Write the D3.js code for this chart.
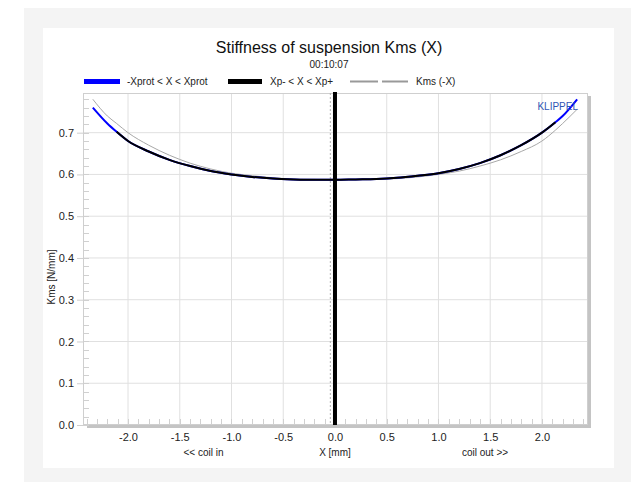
<!DOCTYPE html>
<html>
<head>
<meta charset="utf-8">
<script src="https://cdn.jsdelivr.net/npm/d3@7"></script>
<style>
  body { margin: 0; background: #fff; }
  text { font-family: "Liberation Sans", Arial, sans-serif; }
</style>
</head>
<body>
<div id="chart"></div>
<script>
'use strict';

// data
var xVals = [-2.34, -2.2, -2.11, -2.0, -1.8, -1.6, -1.4, -1.2, -1.0, -0.8, -0.6, -0.4, -0.2, 0,
             0.2, 0.4, 0.6, 0.8, 1.0, 1.2, 1.4, 1.6, 1.8, 2.0, 2.13, 2.2, 2.34];
var kmsVals = [0.760, 0.722, 0.702, 0.680, 0.655, 0.635, 0.620, 0.608, 0.600, 0.594, 0.590, 0.588, 0.587, 0.587,
               0.588, 0.589, 0.592, 0.597, 0.603, 0.613, 0.627, 0.646, 0.670, 0.700, 0.725, 0.740, 0.780];
var kmsMirrorVals = [0.780, 0.740, 0.722, 0.700, 0.670, 0.646, 0.627, 0.613, 0.603, 0.597, 0.592, 0.589, 0.588, 0.587,
                     0.587, 0.588, 0.590, 0.594, 0.600, 0.608, 0.620, 0.635, 0.655, 0.680, 0.706, 0.722, 0.756];
var xpRange = [-2.11, 2.13];
var xTicks = [-2.0, -1.5, -1.0, -0.5, 0.0, 0.5, 1.0, 1.5, 2.0];
var yTicks = [0.0, 0.1, 0.2, 0.3, 0.4, 0.5, 0.6, 0.7];
var legendLabels = ['-Xprot < X < Xprot', 'Xp- < X < Xp+', 'Kms (-X)'];

var width = 631, height = 482;
var plot = { left: 83, top: 93, right: 588, bottom: 425 };
var fmt = function(d) { return d3.format('.1f')(d).replace('\u2212', '-'); };

var svg = d3.select('#chart').append('svg')
    .attr('width', width)
    .attr('height', height);

// backgrounds
svg.append('rect').attr('x', 24).attr('y', 8).attr('width', width - 24).attr('height', height - 8).attr('fill', '#f4f4f4');
svg.append('rect').attr('x', 43).attr('y', 28).attr('width', 614 - 43).attr('height', 468 - 28).attr('fill', '#fff');

var x = d3.scaleLinear().domain([-2.435, 2.445]).range([plot.left, plot.right]);
var y = d3.scaleLinear().domain([0, 0.795]).range([plot.bottom, plot.top]);

// shadow of the frame
svg.append('rect')
    .attr('x', plot.right).attr('y', plot.top + 3)
    .attr('width', 3).attr('height', plot.bottom - plot.top)
    .attr('fill', '#c4c4c4');
svg.append('rect')
    .attr('x', plot.left + 4).attr('y', plot.bottom)
    .attr('width', plot.right - plot.left - 1).attr('height', 3)
    .attr('fill', '#c4c4c4');

// grid
var grid = svg.append('g');
grid.selectAll('.gx').data(xTicks).enter().append('line')
    .attr('x1', function(d) { return x(d); }).attr('x2', function(d) { return x(d); })
    .attr('y1', plot.top).attr('y2', plot.bottom)
    .attr('stroke', '#e0e0e0');
grid.selectAll('.gy').data(yTicks.slice(1)).enter().append('line')
    .attr('x1', plot.left).attr('x2', plot.right)
    .attr('y1', function(d) { return y(d); }).attr('y2', function(d) { return y(d); })
    .attr('stroke', '#e0e0e0');

// minor ticks inside the frame
var minorY = d3.range(0, 0.79, 0.02);
grid.selectAll('.my').data(minorY).enter().append('line')
    .attr('x1', plot.left).attr('x2', plot.left + 6)
    .attr('y1', function(d) { return Math.round(y(d)) + 0.5; }).attr('y2', function(d) { return Math.round(y(d)) + 0.5; })
    .attr('stroke', '#d0d0d0');
var minorX = d3.range(-2.4, 2.45, 0.1);
grid.selectAll('.mx').data(minorX).enter().append('line')
    .attr('x1', function(d) { return Math.round(x(d)) + 0.5; }).attr('x2', function(d) { return Math.round(x(d)) + 0.5; })
    .attr('y1', plot.bottom).attr('y2', plot.bottom - 6)
    .attr('stroke', '#d0d0d0');

// frame
svg.append('rect')
    .attr('x', plot.left + 0.5).attr('y', plot.top + 0.5)
    .attr('width', plot.right - plot.left - 1).attr('height', plot.bottom - plot.top - 1)
    .attr('fill', 'none').attr('stroke', '#cfcfcf');

// axes
var yAxis = svg.append('g')
    .attr('transform', 'translate(' + plot.left + ',0)')
    .call(d3.axisLeft(y).tickValues(yTicks).tickFormat(fmt).tickSize(6).tickPadding(3));
yAxis.select('.domain').remove();
yAxis.selectAll('line').attr('stroke', '#cfcfcf');
yAxis.selectAll('text').attr('font-size', 11).attr('fill', '#222')
    .style('font-family', '"Liberation Sans", Arial, sans-serif');

var xAxis = svg.append('g')
    .attr('transform', 'translate(0,' + plot.bottom + ')')
    .call(d3.axisBottom(x).tickValues(xTicks).tickFormat(fmt).tickSize(0).tickPadding(8));
xAxis.select('.domain').remove();
xAxis.selectAll('text').attr('font-size', 11).attr('fill', '#222')
    .style('font-family', '"Liberation Sans", Arial, sans-serif');

// axis titles
svg.append('text').attr('x', x(0)).attr('y', 456).attr('text-anchor', 'middle')
    .attr('font-size', 10).attr('fill', '#222').text('X [mm]');
svg.append('text').attr('x', x(-1.27)).attr('y', 456).attr('text-anchor', 'middle')
    .attr('font-size', 10).attr('fill', '#222').text('<< coil in');
svg.append('text').attr('x', x(1.45)).attr('y', 456).attr('text-anchor', 'middle')
    .attr('font-size', 10).attr('fill', '#222').text('coil out >>');
svg.append('text')
    .attr('transform', 'translate(55,' + 277 + ') rotate(-90)')
    .attr('text-anchor', 'middle').attr('font-size', 10).attr('fill', '#222')
    .text('Kms [N/mm]');

// titles
svg.append('text').attr('x', 329).attr('y', 53).attr('text-anchor', 'middle')
    .attr('font-size', 16).attr('fill', '#111').text('Stiffness of suspension Kms (X)');
svg.append('text').attr('x', 329).attr('y', 68).attr('text-anchor', 'middle')
    .attr('font-size', 10).attr('fill', '#222').text('00:10:07');

// vertical markers
svg.append('line')
    .attr('x1', x(-0.045)).attr('x2', x(-0.045))
    .attr('y1', plot.top).attr('y2', plot.bottom)
    .attr('stroke', '#b0b0b0').attr('stroke-dasharray', '2,2');

// curves
var pts = xVals.map(function(d, i) { return { x: d, k: kmsVals[i], m: kmsMirrorVals[i] }; });
var line = d3.line().curve(d3.curveMonotoneX)
    .x(function(d) { return x(d.x); });

svg.append('defs').append('clipPath').attr('id', 'clip')
    .append('rect').attr('x', plot.left).attr('y', plot.top)
    .attr('width', plot.right - plot.left).attr('height', plot.bottom - plot.top);

var curves = svg.append('g').attr('clip-path', 'url(#clip)');
curves.append('path').datum(pts)
    .attr('d', line.y(function(d) { return y(d.m); }))
    .attr('fill', 'none').attr('stroke', '#a8a8a8').attr('stroke-width', 1);
curves.append('path').datum(pts)
    .attr('d', line.y(function(d) { return y(d.k); }))
    .attr('fill', 'none').attr('stroke', '#0000ff').attr('stroke-width', 2);
curves.append('path').datum(pts.filter(function(d) { return d.x >= xpRange[0] && d.x <= xpRange[1]; }))
    .attr('d', line.y(function(d) { return y(d.k); }))
    .attr('fill', 'none').attr('stroke', '#000').attr('stroke-width', 2);

svg.append('line')
    .attr('x1', x(0)).attr('x2', x(0))
    .attr('y1', plot.top - 1).attr('y2', plot.bottom)
    .attr('stroke', '#000').attr('stroke-width', 4);

svg.append('text').attr('x', 578).attr('y', 110).attr('text-anchor', 'end')
    .attr('font-size', 10).attr('fill', '#2f55b4').text('KLIPPEL');

// legend
var legend = svg.append('g');
legend.append('rect').attr('x', 84).attr('y', 79).attr('width', 36).attr('height', 5).attr('fill', '#0000ff');
legend.append('text').attr('x', 127).attr('y', 85).attr('font-size', 10).attr('fill', '#222').text(legendLabels[0]);
legend.append('rect').attr('x', 228).attr('y', 79).attr('width', 34).attr('height', 5).attr('fill', '#000');
legend.append('text').attr('x', 270).attr('y', 85).attr('font-size', 10).attr('fill', '#222').text(legendLabels[1]);
legend.append('line').attr('x1', 350).attr('x2', 378).attr('y1', 81.5).attr('y2', 81.5).attr('stroke', '#999').attr('stroke-width', 2);
legend.append('line').attr('x1', 382).attr('x2', 408).attr('y1', 81.5).attr('y2', 81.5).attr('stroke', '#999').attr('stroke-width', 2);
legend.append('text').attr('x', 416).attr('y', 85).attr('font-size', 10).attr('fill', '#222').text(legendLabels[2]);
</script>
</body>
</html>
